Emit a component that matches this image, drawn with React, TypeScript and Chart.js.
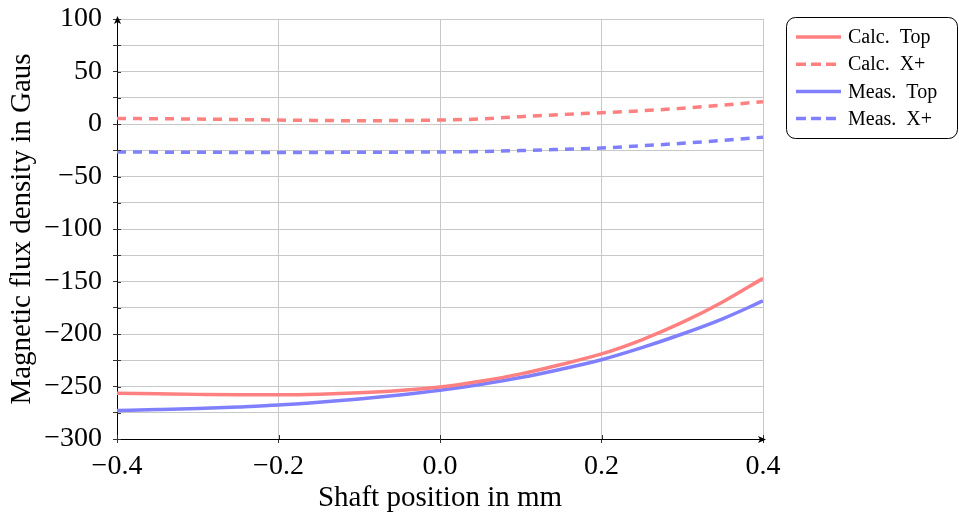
import React, { useEffect, useRef } from 'react';
import { Chart, registerables } from 'chart.js';

Chart.register(...registerables);

// Shaft position in mm
const shaftPositions = [-0.4, -0.35, -0.3, -0.25, -0.2, -0.15, -0.1, -0.05, 0, 0.05, 0.1, 0.15, 0.2, 0.25, 0.3, 0.35, 0.4];
// Magnetic flux density in Gaus
const calcTop = [-256.5, -257, -257.5, -257.8, -257.8, -257.3, -256, -253.8, -250.5, -245, -238, -229, -219, -205.5, -189, -169.5, -147];
const calcXPlus = [5.3, 5.0, 4.7, 4.2, 3.75, 3.4, 3.1, 3.3, 3.75, 4.8, 7.0, 9.0, 10.7, 12.6, 15, 17.9, 21.3];
const measTop = [-272.8, -272, -271, -269.5, -267.7, -265, -261.8, -258, -253.5, -248, -241.5, -233.5, -224.5, -213, -200, -185.5, -168.5];
const measXPlus = [-26.6, -26.8, -26.9, -27.1, -27.2, -27.1, -26.9, -26.8, -26.6, -26.2, -25.3, -24.1, -22.8, -20.7, -18.4, -15.6, -12.5];

const seriesNames = ['Calc. Top', 'Calc. X+', 'Meas. Top', 'Meas. X+'];
const xTickStep = 0.2;
const yTickStep = 25;
const yLabelStep = 50;

const FONT = "'Liberation Serif', 'Times New Roman', serif";
const RED = '#ff8080';
const BLUE = '#8080ff';

function fmt(v: number, dec: number): string {
  const s = Math.abs(v).toFixed(dec);
  return v < -1e-9 ? '\u2212' + s : s;
}

const decorPlugin = {
  id: 'decor',
  afterDraw(chart: any) {
    const ctx = chart.ctx;
    const area = chart.chartArea;
    const xs = chart.scales.x;
    const ys = chart.scales.y;
    ctx.save();
    // inner tick marks
    ctx.strokeStyle = '#333';
    ctx.lineWidth = 1;
    ctx.beginPath();
    ys.ticks.forEach((t: any) => {
      const py = Math.round(ys.getPixelForValue(t.value)) + 0.5;
      ctx.moveTo(area.left, py);
      ctx.lineTo(area.left + 4, py);
    });
    xs.ticks.forEach((t: any) => {
      const px = Math.round(xs.getPixelForValue(t.value)) + 0.5;
      ctx.moveTo(px, area.bottom);
      ctx.lineTo(px, area.bottom - 4);
    });
    ctx.stroke();
    // arrow heads
    ctx.fillStyle = '#000';
    const ax = Math.round(area.left) + 0.5;
    const ay = area.top - 1;
    ctx.beginPath();
    ctx.moveTo(ax, ay - 2);
    ctx.lineTo(ax - 3.5, ay + 6);
    ctx.lineTo(ax, ay + 4);
    ctx.lineTo(ax + 3.5, ay + 6);
    ctx.closePath();
    ctx.fill();
    const bx = area.right + 1;
    const by = Math.round(area.bottom) + 0.5;
    ctx.beginPath();
    ctx.moveTo(bx + 2, by);
    ctx.lineTo(bx - 6, by - 3.5);
    ctx.lineTo(bx - 4, by);
    ctx.lineTo(bx - 6, by + 3.5);
    ctx.closePath();
    ctx.fill();

    // legend box
    const lx = 786.5, ly = 17.5, lw = 171, lh = 121;
    ctx.beginPath();
    (ctx as any).roundRect(lx, ly, lw, lh, 9);
    ctx.fillStyle = '#fff';
    ctx.fill();
    ctx.strokeStyle = '#000';
    ctx.lineWidth = 1;
    ctx.stroke();
    chart.data.datasets.forEach((ds: any, i: number) => {
      const ry = 37 + i * 27.2;
      ctx.strokeStyle = ds.borderColor;
      ctx.lineWidth = 3.5;
      ctx.setLineDash(ds.borderDash && ds.borderDash.length ? [10, 5] : []);
      ctx.beginPath();
      ctx.moveTo(796, ry);
      ctx.lineTo(841, ry);
      ctx.stroke();
      ctx.setLineDash([]);
      ctx.fillStyle = '#000';
      ctx.font = `20px ${FONT}`;
      ctx.textBaseline = 'middle';
      ctx.textAlign = 'left';
      ctx.fillText(ds.label.replace('. ', '.  '), 848, ry + 1);
    });
    ctx.restore();
  },
};

export default function App() {
  const canvasRef = useRef<HTMLCanvasElement | null>(null);

  useEffect(() => {
    if (!canvasRef.current) return;
    const toPts = (vals: number[]) => shaftPositions.map((x, i) => ({ x, y: vals[i] }));
    const mk = (label: string, vals: number[], color: string, dashed: boolean) => ({
      label,
      data: toPts(vals),
      borderColor: color,
      backgroundColor: color,
      borderWidth: 3.5,
      borderDash: dashed ? [9, 7] : [],
      pointRadius: 0,
      cubicInterpolationMode: 'monotone' as const,
      fill: false,
    });
    const chart = new Chart(canvasRef.current, {
      type: 'line',
      data: {
        datasets: [
          mk(seriesNames[0], calcTop, RED, false),
          mk(seriesNames[1], calcXPlus, RED, true),
          mk(seriesNames[2], measTop, BLUE, false),
          mk(seriesNames[3], measXPlus, BLUE, true),
        ],
      },
      options: {
        animation: false,
        responsive: false,
        layout: { padding: { top: 19, right: 196, left: 0, bottom: 0 } },
        plugins: { legend: { display: false }, tooltip: { enabled: false } },
        scales: {
          x: {
            type: 'linear',
            min: -0.4,
            max: 0.4,
            afterFit: (s: any) => {
              s.height = 79;
              s.paddingLeft = 0;
              s.paddingRight = 0;
            },
            ticks: {
              stepSize: xTickStep,
              color: '#000',
              padding: 7,
              font: { family: FONT, size: 28 },
              callback: (v: any) => fmt(Number(v), 1),
            },
            grid: { color: '#c8c8c8', lineWidth: 1, tickLength: 4, tickColor: '#333' },
            border: { color: '#000', width: 1 },
            title: {
              display: true,
              text: 'Shaft position in mm',
              color: '#000',
              font: { family: FONT, size: 29 },
              padding: { top: 0, bottom: 2 },
            },
          },
          y: {
            type: 'linear',
            min: -300,
            max: 100,
            afterFit: (s: any) => {
              s.width = 117;
              s.paddingTop = 0;
              s.paddingBottom = 0;
            },
            ticks: {
              stepSize: yTickStep,
              color: '#000',
              padding: 11,
              autoSkip: false,
              font: { family: FONT, size: 28 },
              callback: (v: any) => {
                const n = Math.round(Number(v));
                return n % yLabelStep === 0 ? fmt(n, 0) : '';
              },
            },
            grid: { color: '#c8c8c8', lineWidth: 1, tickLength: 4, tickColor: '#333' },
            border: { color: '#000', width: 1 },
            title: {
              display: true,
              text: 'Magnetic flux density in Gaus',
              color: '#000',
              font: { family: FONT, size: 29 },
              padding: { top: 5, bottom: 0 },
            },
          },
        },
      },
      plugins: [decorPlugin],
    });
    return () => chart.destroy();
  }, []);

  return (
    <div style={{ position: 'absolute', left: 0, top: 0, width: 959, height: 518, background: '#fff' }}>
      <canvas ref={canvasRef} width={959} height={518} style={{ display: 'block' }} />
    </div>
  );
}
